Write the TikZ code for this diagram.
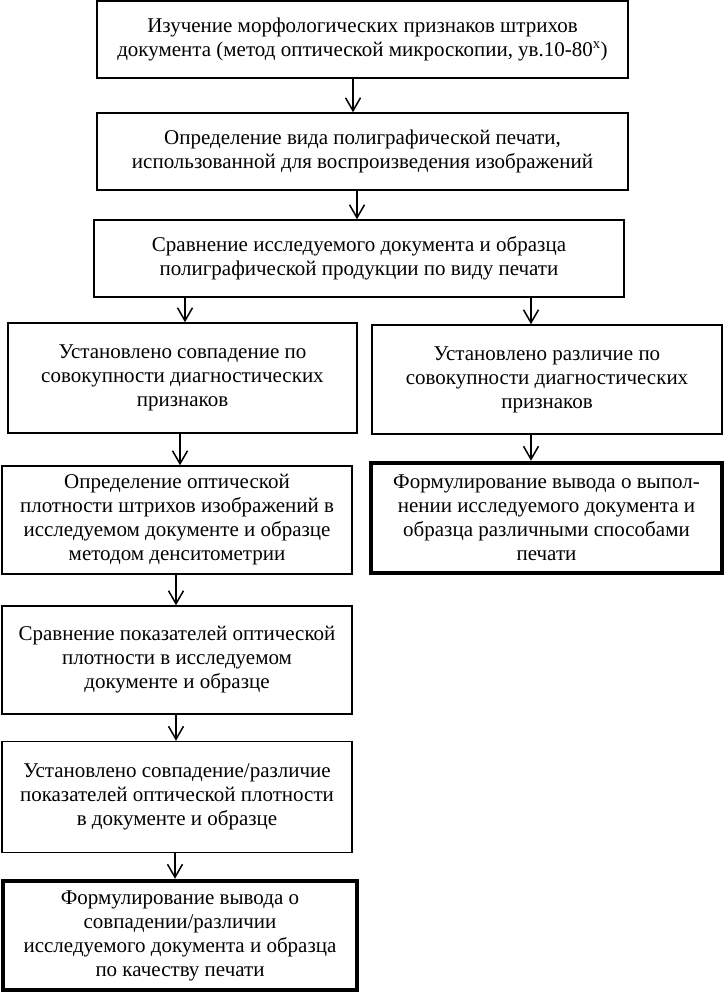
\documentclass[tikz,border=0pt]{standalone}
\usepackage{fontspec}
\setmainfont{Liberation Serif}
\usetikzlibrary{arrows.meta, positioning, calc}

\begin{document}
\begin{tikzpicture}[x=1pt,y=-1pt,>={Straight Barb[length=13pt,width=15pt]},
  font=\fontsize{21}{24}\selectfont,
  blocco/.style={draw, line width=1.5pt, align=center, inner sep=0pt},
  finale/.style={blocco, line width=4.5pt},
  freccia/.style={->, line width=1.5pt}]

% --- Cornice: stesse proporzioni del riferimento
\useasboundingbox (0,0) rectangle (725,993);

% ================== Colonna centrale ==================
\node[blocco, minimum width=531pt, minimum height=77pt] (studio) at (362.5,39.5)
  {Изучение морфологических признаков штрихов\\
   документа (метод оптической микроскопии, ув.10-80\textsuperscript{х})};
\node[blocco, minimum width=531pt, minimum height=77pt] (vid) at (362.5,151.5)
  {Определение вида полиграфической печати,\\
   использованной для воспроизведения изображений};
\node[blocco, minimum width=530pt, minimum height=77pt] (confr) at (359,258.5)
  {Сравнение исследуемого документа и образца\\
   полиграфической продукции по виду печати};

% ================== Ramo sinistro ==================
\node[blocco, minimum width=349pt, minimum height=110pt] (coinc) at (182.5,378)
  {Установлено совпадение по\\
   совокупности диагностических\\
   признаков};
\node[blocco, minimum width=350pt, minimum height=108pt] (dens) at (177,520)
  {Определение оптической\\
   плотности штрихов изображений в\\
   исследуемом документе и образце\\
   методом денситометрии};
\node[blocco, minimum width=350pt, minimum height=108pt] (indic) at (177,660)
  {Сравнение показателей оптической\\
   плотности в исследуемом\\
   документе и образце};
\node[blocco, minimum width=350pt, minimum height=111pt] (esito) at (177,797)
  {Установлено совпадение/различие\\
   показателей оптической плотности\\
   в документе и образце};
\node[finale, minimum width=354pt, minimum height=109pt] (concl) at (180,935.5)
  {Формулирование вывода о\\
   совпадении/различии\\
   исследуемого документа и образца\\
   по качеству печати};

% ================== Ramo destro ==================
\node[blocco, minimum width=350pt, minimum height=109pt] (diff) at (547,379.5)
  {Установлено различие по\\
   совокупности диагностических\\
   признаков};
\node[finale, minimum width=351pt, minimum height=110pt] (concldiff) at (546.5,518)
  {Формулирование вывода о выпол-\\
   нении исследуемого документа и\\
   образца различными способами\\
   печати};

% --- Frecce
\draw[freccia] ([xshift=-9.5pt]studio.south) -- ([xshift=-9.5pt]studio.south |- vid.north);
\draw[freccia] ([xshift=-5.5pt]vid.south) -- ([xshift=-5.5pt]vid.south |- confr.north);
\draw[freccia] (confr.south -| {185,0}) -- (coinc.north -| {185,0});
\draw[freccia] (confr.south -| {531,0}) -- (diff.north -| {531,0});
\draw[freccia] (coinc.south -| {180,0}) -- (dens.north -| {180,0});
\draw[freccia] (diff.south -| {531,0}) -- (concldiff.north -| {531,0});
\draw[freccia] (dens.south -| {176,0}) -- (indic.north -| {176,0});
\draw[freccia] (indic.south -| {176,0}) -- (esito.north -| {176,0});
\draw[freccia] (esito.south -| {175,0}) -- (concl.north -| {175,0});

\end{tikzpicture}
\end{document}
